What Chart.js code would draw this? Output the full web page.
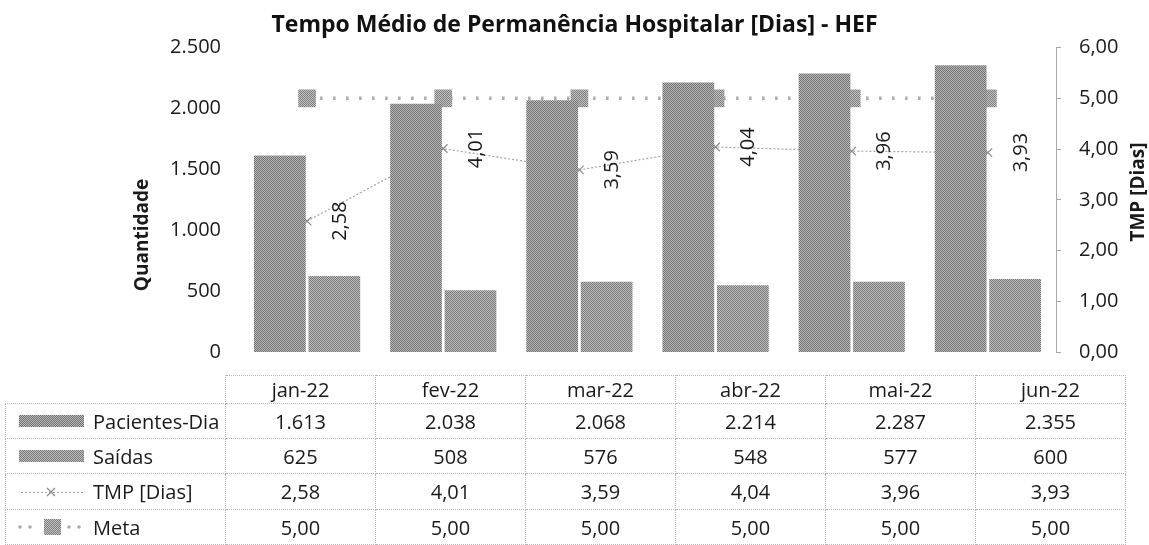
<!DOCTYPE html>
<html>
<head>
<meta charset="utf-8">
<script src="https://cdn.jsdelivr.net/npm/chart.js@4.4.1/dist/chart.umd.min.js"></script>
<style>
  html, body { margin:0; padding:0; background:#fff; }
  #wrap { position:relative; width:1149px; height:545px; font-family:"Open Sans", sans-serif; color:#1a1a1a; overflow:hidden; }
  #chart { position:absolute; left:0; top:0; }
  #tbl { position:absolute; left:5px; top:375px; border-collapse:collapse; font-size:20px; }
  #tbl td { border:1px dotted #b8b8b8; text-align:center; padding:0; width:149px; }
  #tbl td.lab { width:219px; text-align:left; }
  #tbl td.blank { border-top:none; border-left:none; }
  .key { display:flex; align-items:center; }
  .key canvas { margin-left:10px; margin-right:7px; }
</style>
</head>
<body>
<div id="wrap">
  <canvas id="chart" width="1149" height="545"></canvas>
  <table id="tbl"></table>
</div>
<script>
// ─── DATA ─────────────────────────────────────────────────────────────────────
const months       = ['jan-22', 'fev-22', 'mar-22', 'abr-22', 'mai-22', 'jun-22'];
const pacientesDia = [1613, 2038, 2068, 2214, 2287, 2355];
const saidas       = [625, 508, 576, 548, 577, 600];
const tmpDias      = [2.58, 4.01, 3.59, 4.04, 3.96, 3.93];
const meta         = [5.00, 5.00, 5.00, 5.00, 5.00, 5.00];
const qtdTicks     = [0, 500, 1000, 1500, 2000, 2500];
const tmpTicks     = [0, 1, 2, 3, 4, 5, 6];

const fmtInt = v => String(Math.round(v)).replace(/\B(?=(\d{3})+(?!\d))/g, '.');
const fmtDec = v => Number(v).toFixed(2).replace('.', ',');
const FONT = '"Open Sans", sans-serif';
const INK = '#1a1a1a';

// dithered grey fill, like the scanned print
function dither(a, b) {
  const c = document.createElement('canvas');
  c.width = c.height = 2;
  const g = c.getContext('2d');
  g.fillStyle = b; g.fillRect(0, 0, 2, 2);
  g.fillStyle = a; g.fillRect(0, 0, 1, 1); g.fillRect(1, 1, 1, 1);
  return g.createPattern(c, 'repeat');
}
const patPac  = dither('#727272', '#b8b8b8');
const patSai  = dither('#7a7a7a', '#bdbdbd');
const patMeta = dither('#7e7e7e', '#c2c2c2');

// ─── PLUGINS ──────────────────────────────────────────────────────────────────
const extras = {
  id: 'extras',
  afterDatasetsDraw(chart) {
    const ctx = chart.ctx;
    ctx.save();
    ctx.fillStyle = INK;
    ctx.textAlign = 'center';
    ctx.textBaseline = 'middle';
    // TMP value labels, rotated
    ctx.font = '20px ' + FONT;
    chart.getDatasetMeta(2).data.forEach((pt, i) => {
      ctx.save();
      ctx.translate(pt.x + 33, pt.y);
      ctx.rotate(-Math.PI / 2);
      ctx.fillText(fmtDec(tmpDias[i]), 0, 0);
      ctx.restore();
    });
    // axis titles
    ctx.font = 'bold 19px ' + FONT;
    [['Quantidade', 143, 235], ['TMP [Dias]', 1139, 192]].forEach(([t, x, y]) => {
      ctx.save();
      ctx.translate(x, y);
      ctx.rotate(-Math.PI / 2);
      ctx.fillText(t, 0, 0);
      ctx.restore();
    });
    ctx.restore();
  }
};

// ─── CHART ────────────────────────────────────────────────────────────────────
const chart = new Chart(document.getElementById('chart').getContext('2d'), {
  data: {
    labels: months,
    datasets: [
      { type:'bar', label:'Pacientes-Dia', data:pacientesDia, yAxisID:'yQ', backgroundColor:patPac,
        categoryPercentage:0.8, barPercentage:0.95, order:1 },
      { type:'bar', label:'Saídas', data:saidas, yAxisID:'yQ', backgroundColor:patSai,
        categoryPercentage:0.8, barPercentage:0.95, order:1 },
      { type:'line', label:'TMP [Dias]', data:tmpDias, yAxisID:'yT', borderColor:'#a4a4a4', borderWidth:1.2,
        borderDash:[2,2], pointStyle:'crossRot', pointRadius:6, pointBorderColor:'#8c8c8c', pointBorderWidth:1.3,
        tension:0, order:2 },
      { type:'line', label:'Meta', data:meta, yAxisID:'yT', borderColor:'#ababab', borderWidth:3.5,
        borderDash:[2.5,10.5], pointStyle:'rect', pointRadius:12.5, pointBackgroundColor:patMeta, pointBorderWidth:0,
        tension:0, order:3 }
    ]
  },
  options: {
    responsive:false, animation:false,
    layout: { padding: { bottom:193 } },
    plugins: {
      legend: { display:false },
      tooltip: { enabled:false },
      title: { display:true, text:'Tempo Médio de Permanência Hospitalar [Dias] - HEF', color:'#111',
               font:{ family:FONT, size:23, weight:'bold' }, padding:{ top:12, bottom:8 } }
    },
    scales: {
      x: { display:false, offset:true },
      yQ: { position:'left', min:0, max:2500,
            afterBuildTicks: s => { s.ticks = qtdTicks.map(v => ({ value:v })); },
            afterFit: s => { s.width = 239; },
            ticks: { padding:10, color:INK, font:{ family:FONT, size:20 }, callback: v => fmtInt(v) },
            grid: { display:false }, border: { display:false } },
      yT: { position:'right', min:0, max:6,
            afterBuildTicks: s => { s.ticks = tmpTicks.map(v => ({ value:v })); },
            afterFit: s => { s.width = 93; },
            ticks: { padding:18, color:INK, font:{ family:FONT, size:20 }, callback: v => fmtDec(v) },
            grid: { drawOnChartArea:false, tickLength:5, color:'#a8a8a8' },
            border: { display:true, color:'#a8a8a8', dash:[1,2] } }
    }
  },
  plugins: [extras]
});

// ─── DATA TABLE ───────────────────────────────────────────────────────────────
function keyCanvas(kind) {
  const c = document.createElement('canvas');
  c.width = 70; c.height = 20;
  const g = c.getContext('2d');
  if (kind === 'pac' || kind === 'sai') {
    g.fillStyle = kind === 'pac' ? patPac : patSai;
    g.fillRect(3, 4, 65, 12);
  } else if (kind === 'tmp') {
    g.strokeStyle = '#a4a4a4'; g.lineWidth = 1; g.setLineDash([2, 2]);
    g.beginPath(); g.moveTo(5, 10.5); g.lineTo(68, 10.5); g.stroke();
    g.setLineDash([]); g.strokeStyle = '#8c8c8c'; g.lineWidth = 1.3;
    g.beginPath(); g.moveTo(31, 6); g.lineTo(39, 14); g.moveTo(39, 6); g.lineTo(31, 14); g.stroke();
  } else {
    g.fillStyle = '#ababab';
    [4, 14, 53, 63].forEach(x => { g.beginPath(); g.arc(x, 10, 1.8, 0, Math.PI * 2); g.fill(); });
    g.fillStyle = patMeta; g.fillRect(28, 2, 17, 16);
  }
  return c;
}

const rows = [
  ['Pacientes-Dia', 'pac', pacientesDia.map(fmtInt), 35],
  ['Saídas', 'sai', saidas.map(fmtInt), 35],
  ['TMP [Dias]', 'tmp', tmpDias.map(fmtDec), 36],
  ['Meta', 'meta', meta.map(fmtDec), 35]
];
const tbl = document.getElementById('tbl');
let tr = tbl.insertRow();
tr.style.height = '28px';
let td = tr.insertCell(); td.className = 'lab blank';
months.forEach(m => { const c = tr.insertCell(); c.textContent = m; });
rows.forEach(([name, kind, vals, h]) => {
  tr = tbl.insertRow();
  tr.style.height = h + 'px';
  td = tr.insertCell(); td.className = 'lab';
  const d = document.createElement('div'); d.className = 'key';
  d.appendChild(keyCanvas(kind));
  const s = document.createElement('span'); s.textContent = name; d.appendChild(s);
  td.appendChild(d);
  vals.forEach(v => { const c = tr.insertCell(); c.textContent = v; });
});
</script>
</body>
</html>
